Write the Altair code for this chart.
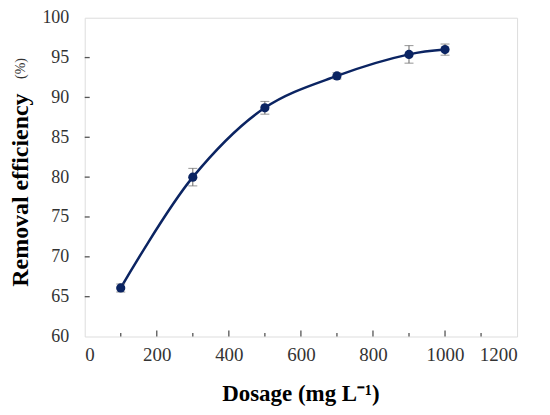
import altair as alt
import pandas as pd

dosage = [100, 300, 500, 700, 900, 1000]
removal = [66.1, 80.0, 88.7, 92.7, 95.4, 96.0]
err = [0.5, 1.1, 0.8, 0.4, 1.1, 0.7]

x_labels = [0, 200, 400, 600, 800, 1000, 1200]
y_labels = [60, 65, 70, 75, 80, 85, 90, 95, 100]
x_major_inner = [200, 400, 600, 800, 1000]
x_minor_inner = [100, 300, 500, 700, 900, 1100]
y_inner = [65, 70, 75, 80, 85, 90, 95]

W, H = 434, 320
NAVY = "#0b2462"
AXIS = "#555555"
SERIF = "Liberation Serif"

df = pd.DataFrame({"dosage": dosage, "removal": removal, "err": err})
df["lo"] = df["removal"] - df["err"]
df["hi"] = df["removal"] + df["err"]

xscale = alt.Scale(domain=[0, 1200], nice=False, zero=False)
yscale = alt.Scale(domain=[60, 100], nice=False, zero=False)

xaxis = alt.Axis(values=x_labels, format="d", title=None, grid=False, domain=False, ticks=False,
                 labelOverlap=False, labelFont=SERIF, labelFontSize=19,
                 labelColor="#333333", labelPadding=9)
yaxis = alt.Axis(values=y_labels, format="d", title=None, grid=False, domain=False, ticks=False,
                 labelOverlap=False, labelFont=SERIF, labelFontSize=18,
                 labelColor="#333333", labelPadding=16)


def X(field):
    return alt.X(field, scale=xscale, axis=xaxis)


def Y(field):
    return alt.Y(field, scale=yscale, axis=yaxis)


base = alt.Chart(df)

line = base.mark_line(color=NAVY, strokeWidth=2.5, interpolate="catmull-rom").encode(
    x=X("dosage:Q"), y=Y("removal:Q")
)

bars = base.mark_rule(color="#666666", strokeWidth=1).encode(
    x=X("dosage:Q"), y=Y("lo:Q"), y2="hi:Q"
)
cap_lo = base.mark_tick(color="#666666", thickness=1, size=9, orient="horizontal").encode(
    x=X("dosage:Q"), y=Y("lo:Q")
)
cap_hi = base.mark_tick(color="#666666", thickness=1, size=9, orient="horizontal").encode(
    x=X("dosage:Q"), y=Y("hi:Q")
)

pts = base.mark_point(filled=True, color=NAVY, size=85, opacity=1).encode(
    x=X("dosage:Q"), y=Y("removal:Q")
)

xmaj = alt.Chart(pd.DataFrame({"v": x_major_inner})).mark_rule(color=AXIS, strokeWidth=1.3).encode(
    x=X("v:Q"), y=alt.value(H), y2=alt.value(H - 6)
)
xmin = alt.Chart(pd.DataFrame({"v": x_minor_inner})).mark_rule(color=AXIS, strokeWidth=1.3).encode(
    x=X("v:Q"), y=alt.value(H), y2=alt.value(H - 3.5)
)
ytk = alt.Chart(pd.DataFrame({"v": y_inner})).mark_rule(color=AXIS, strokeWidth=1.3).encode(
    y=Y("v:Q"), x=alt.value(0), x2=alt.value(5)
)

ytitle = alt.Chart(pd.DataFrame({"t": ["Removal efficiency"]})).mark_text(
    angle=270, font=SERIF, fontSize=24, fontWeight="bold", color="black",
    align="center", baseline="alphabetic"
).encode(text="t:N", x=alt.value(-57), y=alt.value(173))

ypct = alt.Chart(pd.DataFrame({"t": ["(%)"]})).mark_text(
    angle=270, font=SERIF, fontSize=14, color="#333333",
    align="center", baseline="alphabetic"
).encode(text="t:N", x=alt.value(-60), y=alt.value(51))

xtitle = alt.Chart(pd.DataFrame({"t": ["Dosage (mg L\u207b\u00b9)"]})).mark_text(
    font=SERIF, fontSize=23, fontWeight="bold", color="black",
    align="center", baseline="alphabetic"
).encode(text="t:N", x=alt.value(W / 2), y=alt.value(H + 65))

chart = alt.layer(
    line, bars, cap_lo, cap_hi, pts, xmaj, xmin, ytk, ytitle, ypct, xtitle
).properties(
    width=W, height=H,
    autosize=alt.AutoSizeParams(type="none"),
    padding={"left": 77, "top": 9, "right": 25, "bottom": 78},
).configure_view(
    stroke=AXIS, strokeWidth=1.5
).configure(background="white")

chart.save("out.html", embed_options={"renderer": "svg", "actions": False})
